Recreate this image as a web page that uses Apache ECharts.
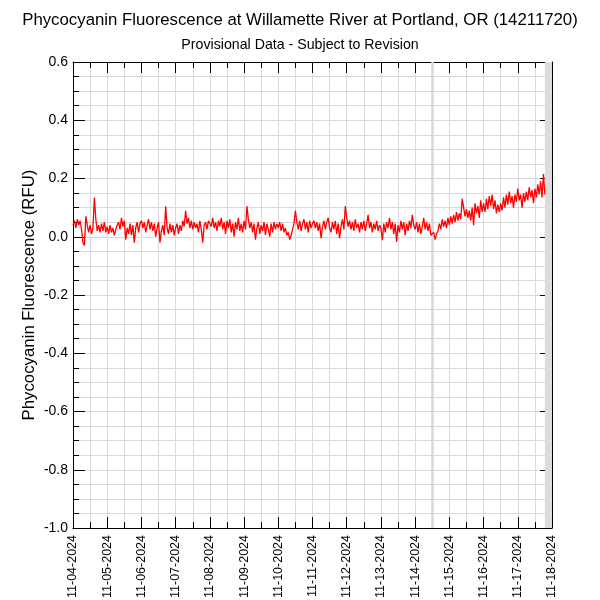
<!DOCTYPE html>
<html>
<head>
<meta charset="utf-8">
<script src="https://cdn.jsdelivr.net/npm/echarts@6/dist/echarts.min.js"></script>
<style>html,body{margin:0;padding:0;background:#fff}#c{width:600px;height:600px}</style>
</head>
<body>
<div id="c"></div>
<script>
// Tick labels for the x axis (one per day, starting 11-04-2024 00:00)
var tickLabels = ["11-04-2024","11-05-2024","11-06-2024","11-07-2024","11-08-2024","11-09-2024","11-10-2024",
  "11-11-2024","11-12-2024","11-13-2024","11-14-2024","11-15-2024","11-16-2024","11-17-2024","11-18-2024"];
var yTicks = [-1.0,-0.8,-0.6,-0.4,-0.2,0.0,0.2,0.4,0.6];

// Hourly phycocyanin readings (RFU), one array per day
var d1104 = [0.04,0.055,0.03,0.06,0.04,0.055,0.025,-0.02,-0.03,0.07,0.04,0.015,0.04,0.01,0.03,0.135,0.06,0.02,0.04,0.015,0.045,0.02,0.05,0.015];
var d1105 = [0.035,0.01,0.04,0.015,0.03,0.005,0.025,0.04,0.05,0.025,0.065,0.035,0.055,-0.01,0.03,0.01,0.045,0.005,0.04,-0.02,0.03,0.05,0.015,0.045];
var d1106 = [0.055,0.03,0.05,0.015,0.04,0.06,0.025,0.05,0.02,0.045,0.0,0.03,0.05,-0.02,0.02,0.04,0.005,0.105,0.03,0.01,0.045,0.015,0.04,0.005];
var d1107 = [0.03,0.045,0.01,0.04,0.02,0.055,0.035,0.09,0.045,0.065,0.03,0.055,0.025,0.05,0.03,0.045,0.015,0.055,0.025,-0.02,0.04,0.05,0.025,0.055];
var d1108 = [0.06,0.035,0.065,0.03,0.05,0.02,0.055,0.035,0.065,0.025,0.05,0.01,0.055,0.03,0.06,0.015,0.045,0.0,0.05,0.025,0.065,0.02,0.045,0.015];
var d1109 = [0.055,0.025,0.105,0.06,0.03,0.05,0.015,0.045,-0.01,0.03,0.05,0.01,0.04,0.02,0.05,0.005,0.045,0.025,0.0,0.045,0.015,0.05,0.025,0.045];
var d1110 = [0.03,0.05,0.02,0.045,0.015,0.03,0.005,0.015,-0.01,0.005,0.01,0.045,0.09,0.05,0.025,0.055,0.02,0.045,0.06,0.025,0.05,0.015,0.055,0.03];
var d1111 = [0.045,0.055,0.03,0.05,0.02,0.045,-0.005,0.035,0.055,0.025,0.05,0.065,0.03,0.015,0.05,0.025,0.055,0.01,0.045,-0.005,0.035,0.06,0.025,0.105];
var d1112 = [0.065,0.035,0.055,0.025,0.05,0.02,0.06,0.03,0.045,0.015,0.05,0.025,0.055,0.02,0.045,0.075,0.03,0.05,0.015,0.045,0.025,0.055,0.02,0.04];
var d1113 = [0.03,-0.012,0.045,0.015,0.05,0.03,0.065,0.025,0.05,0.01,0.045,-0.018,0.04,0.015,0.055,0.025,0.05,0.005,0.045,0.02,0.055,0.03,0.075,0.04];
var d1114 = [0.025,0.05,0.015,0.045,0.01,0.035,0.065,0.025,0.05,0.02,0.045,0.005,0.0,0.015,-0.01,0.01,0.02,0.045,0.025,0.06,0.035,0.055,0.03,0.065];
var d1115 = [0.04,0.07,0.045,0.075,0.05,0.085,0.055,0.08,0.06,0.13,0.1,0.07,0.095,0.065,0.09,0.055,0.1,0.04,0.115,0.08,0.105,0.065,0.125,0.085];
var d1116 = [0.115,0.085,0.13,0.095,0.14,0.105,0.145,0.095,0.125,0.08,0.11,0.085,0.115,0.09,0.135,0.1,0.145,0.11,0.155,0.115,0.14,0.1,0.145,0.12];
var d1117 = [0.165,0.125,0.145,0.1,0.15,0.12,0.155,0.125,0.17,0.135,0.16,0.115,0.165,0.135,0.18,0.145,0.19,0.135,0.215,0.145];

var days = [d1104,d1105,d1106,d1107,d1108,d1109,d1110,d1111,d1112,d1113,d1114,d1115,d1116,d1117];
var seriesData = [];
days.forEach(function(arr, di){ arr.forEach(function(v, h){ seriesData.push([di*24 + h, v]); }); });
var lastHour = seriesData[seriesData.length-1][0];
var gapHour = 10*24 + 12; // thick gray marker at 11-14-2024 12:00

var FONT = "Liberation Sans";
var chart = echarts.init(document.getElementById('c'), null, {renderer:'canvas'});

function xAxisCfg(pos, showLabel){
  return {
    type:'value', position:pos, min:0, max:336, interval:24,
    axisLine:{show:true, onZero:false, lineStyle:{color:'#000', width:1}},
    axisTick:{show:true, inside:true, length:11, lineStyle:{color:'#000'}},
    minorTick:{show:true, splitNumber:2, length:6, lineStyle:{color:'#000'}},
    splitLine:{show:showLabel, lineStyle:{color:'#d9d9d9', width:1}},
    minorSplitLine:{show:showLabel, lineStyle:{color:'#d9d9d9', width:1}},
    axisLabel:{show:showLabel, rotate:90, fontFamily:FONT, fontSize:12.5, color:'#000', margin:7,
      hideOverlap:false,
      formatter:function(v){ return tickLabels[Math.round(v/24)] || ''; }}
  };
}
function yAxisCfg(pos, showLabel){
  return {
    type:'value', position:pos, min:-1.0, max:0.6, interval:0.2,
    name: showLabel ? 'Phycocyanin Fluorescence (RFU)' : '',
    nameLocation:'middle', nameGap:35, nameMoveOverlap:false,
    nameTextStyle:{fontFamily:FONT, fontSize:16.8, color:'#000'},
    axisLine:{show:true, onZero:false, lineStyle:{color:'#000', width:1}},
    axisTick:{show:true, inside:true, length:12, lineStyle:{color:'#000'}},
    minorTick:{show:true, splitNumber:4, length:6, lineStyle:{color:'#000'}},
    splitLine:{show:showLabel, lineStyle:{color:'#d9d9d9', width:1}},
    minorSplitLine:{show:showLabel, lineStyle:{color:'#d9d9d9', width:1}},
    axisLabel:{show:showLabel, fontFamily:FONT, fontSize:14, color:'#000', margin:5,
      formatter:function(v){ return v.toFixed(1); }}
  };
}

chart.setOption({
  animation:false,
  backgroundColor:'#fff',
  title:[
    {text:'Phycocyanin Fluorescence at Willamette River at Portland, OR (14211720)', left:'center', top:7,
     textStyle:{fontFamily:FONT, fontSize:16.8, fontWeight:'normal', color:'#000'}},
    {text:'Provisional Data - Subject to Revision', left:'center', top:33,
     textStyle:{fontFamily:FONT, fontSize:14.2, fontWeight:'normal', color:'#000'}}
  ],
  grid:{left:73, right:48, top:62, bottom:72, containLabel:false, outerBoundsMode:'none'},
  xAxis:[xAxisCfg('bottom', true), xAxisCfg('top', false)],
  yAxis:[yAxisCfg('left', true), yAxisCfg('right', false)],
  series:[{
    type:'line', xAxisIndex:0, yAxisIndex:0, data:seriesData,
    showSymbol:false, symbol:'none',
    lineStyle:{color:'#ff0000', width:1.3}, itemStyle:{color:'#ff0000'},
    markArea:{silent:true, itemStyle:{color:'#dcdcdc'}, data:[[{xAxis:lastHour},{xAxis:336}]]},
    markLine:{silent:true, symbol:'none', label:{show:false},
      lineStyle:{color:'#d6d6d6', width:2.5, type:'solid'}, data:[{xAxis:gapHour}]},
    z:5
  }]
});
</script>
</body>
</html>
